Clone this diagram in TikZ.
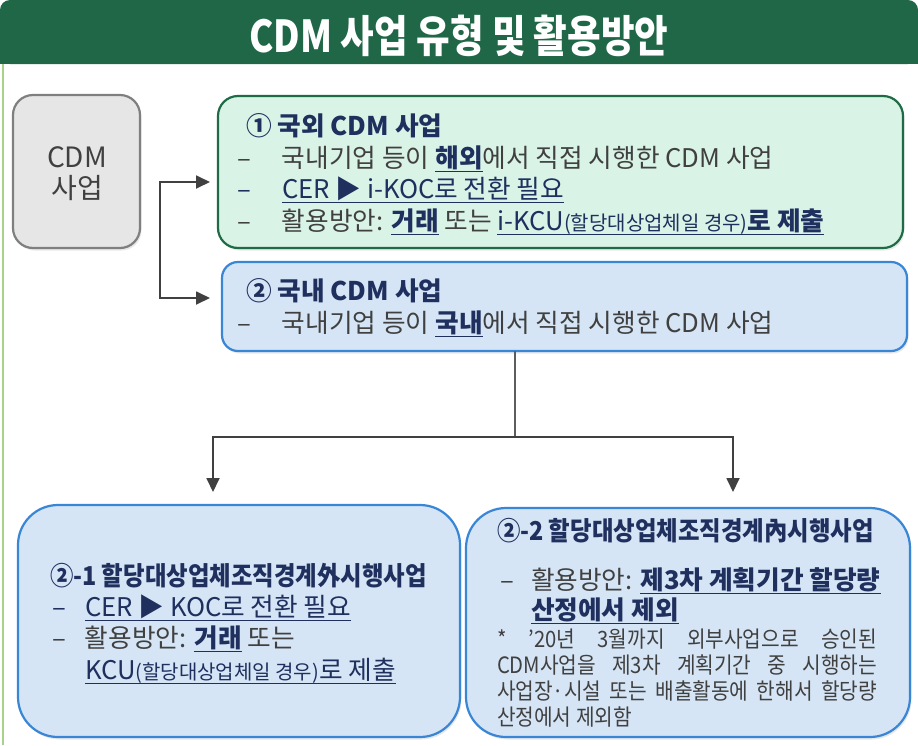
\documentclass[tikz,border=0pt]{standalone}
\usepackage{fontspec}
\setmainfont{Noto Sans CJK KR}
\newfontfamily\titlefont{Noto Sans CJK KR}[FakeStretch=0.83]
\newfontfamily\condfont{Noto Sans CJK KR}[FakeStretch=0.9]
\newfontfamily\notefont{Noto Sans CJK KR}[FakeStretch=0.9]
\usetikzlibrary{arrows.meta,shadows}
\definecolor{hdrgreen}{HTML}{1F6747}
\definecolor{navy}{HTML}{1F2F5E}
\definecolor{txtgray}{HTML}{404040}
\definecolor{g1fill}{HTML}{DAF3E7}
\definecolor{g1line}{HTML}{1F6B45}
\definecolor{bfill}{HTML}{D5E5F5}
\definecolor{bline}{HTML}{3A86D6}
\definecolor{grayfill}{HTML}{E6E6E6}
\definecolor{grayline}{HTML}{7F7F7F}
\definecolor{edgegreen}{HTML}{A9D18E}
\definecolor{connc}{HTML}{404040}
\newsavebox{\myulbox}
\newcommand\myul[1]{\begingroup\sbox{\myulbox}{#1}\rlap{\vrule height -3.8pt depth 5.0pt width \wd\myulbox}\usebox{\myulbox}\endgroup}
\newcommand\hl[1]{\textcolor{navy}{\myul{#1}}}
\newcommand\bhl[1]{\textcolor{navy}{\myul{\textbf{#1}}}}
\newcommand\smallpar[1]{{\fontsize{20}{22}\selectfont #1}}
\tikzset{
  boxbase/.style={inner sep=0pt, outer sep=0pt, line width=2.2pt,
    drop shadow={shadow xshift=1.5pt, shadow yshift=-2.5pt, opacity=0.18}},
  greenbox/.style={boxbase, draw=g1line, fill=g1fill, rounded corners=20pt},
  bluebox/.style={boxbase, draw=bline, fill=bfill},
  graybox/.style={boxbase, draw=grayline, fill=grayfill, rounded corners=20pt},
  txt/.style={anchor=base west, inner sep=0pt, outer sep=0pt,
    font=\fontsize{25.7}{30}\selectfont, text=txtgray},
  note/.style={anchor=base west, inner sep=0pt, outer sep=0pt,
    font=\notefont\fontsize{22.5}{26}\selectfont, text=txtgray},
  heading/.style={txt, text=navy, font=\bfseries\fontsize{25.7}{30}\selectfont},
  condhead/.style={txt, text=navy, font=\condfont\bfseries\fontsize{26}{30}\selectfont},
  arr2/.style={draw=connc, line width=1.8pt,
    {Triangle[length=14pt,width=13pt]}-{Triangle[length=14pt,width=13pt]}},
  conn/.style={draw=connc!85, line width=1.5pt}
}
\begin{document}
\begin{tikzpicture}[x=1pt,y=-1pt]
\useasboundingbox (0,0) rectangle (918,745);
% header
\fill[hdrgreen] (0,30) rectangle (918,64);
\node[fill=hdrgreen, rounded corners=10pt, minimum width=918pt, minimum height=64pt,
  inner sep=0pt, outer sep=0pt] (hdr) at (459,32) {};
\node[anchor=base, inner sep=0pt, text=white,
  font=\titlefont\bfseries\fontsize{44}{48}\selectfont] (ttl) at (459,52) {CDM 사업 유형 및 활용방안};
\draw[edgegreen, line width=2pt] (3,64) -- (3,745);

% boxes
\node[graybox, minimum width=127pt, minimum height=153pt] (cdm) at (76.5,171.5) {};
\node[greenbox, minimum width=685pt, minimum height=152pt] (b1) at (560.5,172) {};
\node[bluebox, rounded corners=16pt, minimum width=685pt, minimum height=89pt] (b2) at (564.5,306.5) {};
\node[bluebox, rounded corners=40pt, minimum width=442pt, minimum height=232pt] (b3) at (239,621) {};
\node[bluebox, rounded corners=40pt, minimum width=444pt, minimum height=229pt] (b4) at (688,622.5) {};

% CDM box text
\node[anchor=base, inner sep=0pt, text=txtgray, font=\fontsize{28}{32}\selectfont] (cdm1) at (77,167) {CDM};
\node[anchor=base, inner sep=0pt, text=txtgray, font=\fontsize{28}{32}\selectfont] (cdm2) at (77,198) {사업};

% connectors from CDM box
\coordinate (j1) at (160,182);
\coordinate (j2) at (160,298);
\coordinate (t1) at (210,182);
\coordinate (t2) at (210,298);
\draw[arr2] (t1) -- (j1) -- (j2) -- (t2);

% connectors from box 2
\coordinate (m0) at (515,437);
\coordinate (d1) at (213,492);
\coordinate (d2) at (733,492);
\draw[conn] (b2.south -| m0) -- (m0);
\draw[arr2] (d1) |- (m0) -| (d2);

% box 1 text
\node[heading] (b1h) at (246,135) {① 국외 CDM 사업};
\node[txt] (b1a) at (237,167) {\makebox[45pt][l]{–}국내기업 등이 \bhl{해외}에서 직접 시행한 CDM 사업};
\node[txt] (b1b) at (237,198) {\textcolor{navy}{\makebox[45pt][l]{–}}\hl{CER ▶ i-KOC로 전환 필요}};
\node[txt] (b1c) at (237,230) {\makebox[45pt][l]{–}활용방안: \bhl{거래} 또는 \hl{i-KCU\smallpar{(할당대상업체일 경우)}\textbf{로 제출}}};

% box 2 text
\node[heading] (b2h) at (246,300) {② 국내 CDM 사업};
\node[txt] (b2a) at (237,332) {\makebox[45pt][l]{–}국내기업 등이 \bhl{국내}에서 직접 시행한 CDM 사업};

% box 3 text
\node[condhead] (b3h) at (50,585) {②-1 할당대상업체조직경계外시행사업};
\node[txt] (b3a) at (52,616) {\textcolor{navy}{\makebox[33pt][l]{–}}\hl{CER ▶ KOC로 전환 필요}};
\node[txt] (b3b) at (52,647) {\makebox[33pt][l]{–}활용방안: \bhl{거래} 또는};
\node[txt] (b3c) at (85,679) {\hl{KCU\smallpar{(할당대상업체일 경우)}로 제출}};

% box 4 text
\node[condhead] (b4h) at (497,540) {②-2 할당대상업체조직경계內시행사업};
\node[txt] (b4a) at (500,589) {\makebox[31pt][l]{–}활용방안: \bhl{제3차 계획기간 할당량}};
\node[txt] (b4b) at (531,619) {\bhl{산정에서 제외}};
\node[note] (n1) at (497,647) {\makebox[380pt][s]{* ’20년 3월까지 외부사업으로 승인된}};
\node[note] (n2) at (497,673) {\makebox[380pt][s]{CDM사업을 제3차 계획기간 중 시행하는}};
\node[note] (n3) at (497,699) {\makebox[380pt][s]{사업장·시설 또는 배출활동에 한해서 할당량}};
\node[note] (n4) at (497,725) {산정에서 제외함};
\end{tikzpicture}
\end{document}
